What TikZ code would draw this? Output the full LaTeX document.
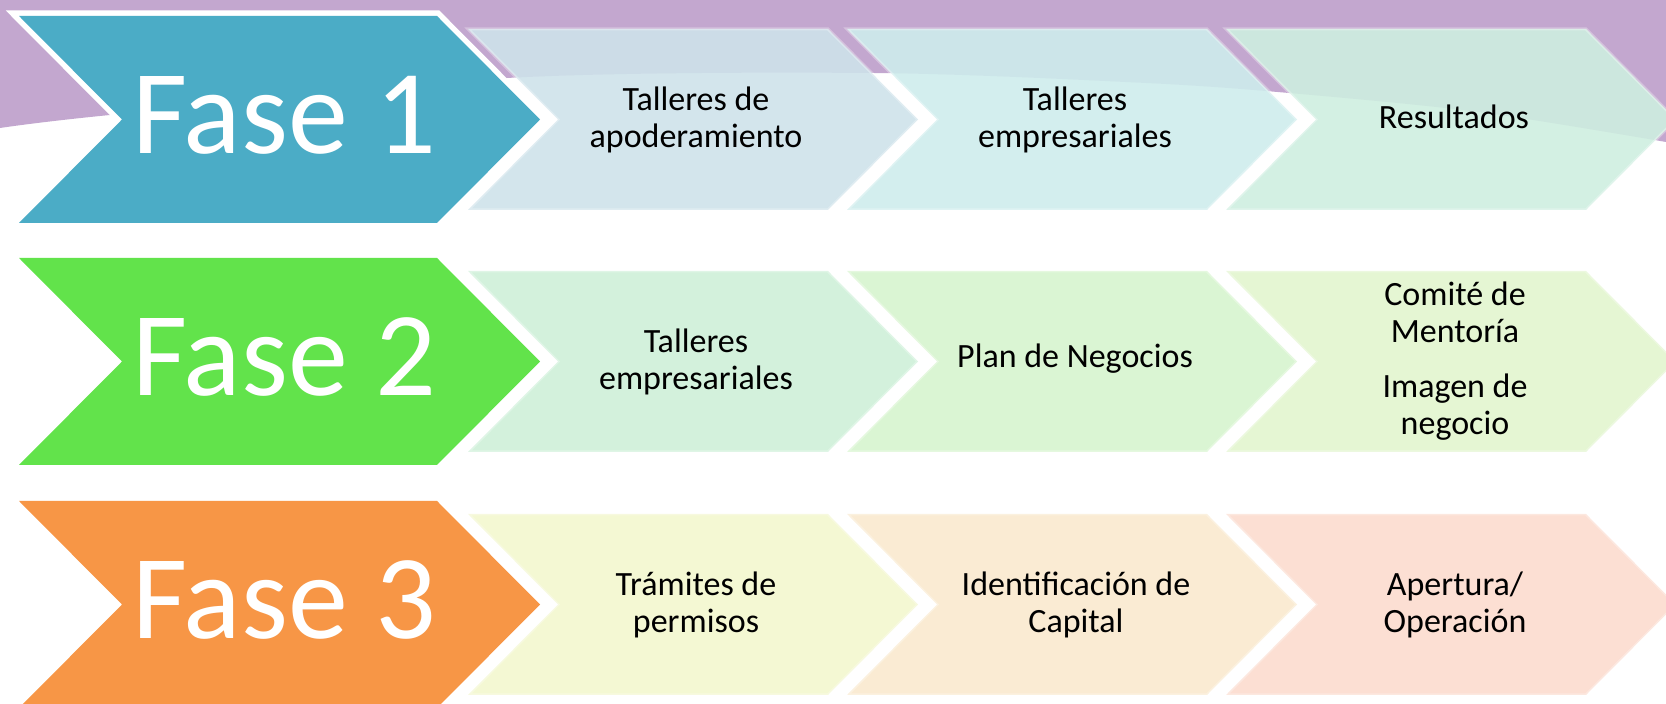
\documentclass[tikz,border=0pt]{standalone}
\usepackage{fontspec}
\setmainfont{Carlito}
\usepackage{tikz}
\usetikzlibrary{positioning,calc}
\definecolor{lila}{HTML}{C3A7CF}
\definecolor{azul}{HTML}{4BACC6}
\definecolor{verde}{HTML}{62E34B}
\definecolor{naranja}{HTML}{F79646}
\definecolor{pa1}{HTML}{CEE2EA}
\definecolor{pa2}{HTML}{CEECEC}
\definecolor{pa3}{HTML}{CEEEE0}
\definecolor{pb1}{HTML}{CEF0D8}
\definecolor{pb2}{HTML}{D6F4CE}
\definecolor{pb3}{HTML}{E2F5CE}
\definecolor{pc1}{HTML}{F3F7CE}
\definecolor{pc2}{HTML}{FAE9CE}
\definecolor{pc3}{HTML}{FCDBCE}
\tikzstyle{fase} = [preaction={draw=white,line width=5.5pt,line join=miter}]
\tikzstyle{paso} = [fill opacity=0.9, draw=white, draw opacity=0.3, line width=1.5pt, line join=miter]
\tikzstyle{fasetext} = [text=white, font=\fontsize{60}{62}\selectfont]
\tikzstyle{pasotext} = [text=black, align=center, font=\fontsize{17}{18.5}\selectfont]

\begin{document}
\begin{tikzpicture}[x=0.5pt,y=-0.5pt]
    \useasboundingbox (0,0) rectangle (1666,704);
    % fondo
    \fill [lila] (0,0) -- (1666,0) -- plot [smooth] coordinates {(1666,142) (1479,112) (1289,93) (1146,83) (873,73) (507,78) (110,115) (0,128)} -- cycle;

    \fill [azul,fase] (19,16) -- ++(418,0) -- ++(103,103.5) -- ++(-103,103.5) -- ++(-418,0) -- ++(103,-103.5) -- cycle;
    \fill [verde,fase] (19,258) -- ++(418,0) -- ++(103,103.5) -- ++(-103,103.5) -- ++(-418,0) -- ++(103,-103.5) -- cycle;
    \fill [naranja,fase] (19,501) -- ++(418,0) -- ++(103,103.5) -- ++(-103,103.5) -- ++(-418,0) -- ++(103,-103.5) -- cycle;

    \path [paso,fill=pa1] (468,29) -- ++(360,0) -- ++(90,90.5) -- ++(-90,90.5) -- ++(-360,0) -- ++(90,-90.5) -- cycle;
    \path [paso,fill=pa2] (847,29) -- ++(360,0) -- ++(90,90.5) -- ++(-90,90.5) -- ++(-360,0) -- ++(90,-90.5) -- cycle;
    \path [paso,fill=pa3] (1226,29) -- ++(360,0) -- ++(90,90.5) -- ++(-90,90.5) -- ++(-360,0) -- ++(90,-90.5) -- cycle;
    \path [paso,fill=pb1] (468,271) -- ++(360,0) -- ++(90,90.5) -- ++(-90,90.5) -- ++(-360,0) -- ++(90,-90.5) -- cycle;
    \path [paso,fill=pb2] (847,271) -- ++(360,0) -- ++(90,90.5) -- ++(-90,90.5) -- ++(-360,0) -- ++(90,-90.5) -- cycle;
    \path [paso,fill=pb3] (1226,271) -- ++(360,0) -- ++(90,90.5) -- ++(-90,90.5) -- ++(-360,0) -- ++(90,-90.5) -- cycle;
    \path [paso,fill=pc1] (468,514) -- ++(360,0) -- ++(90,90.5) -- ++(-90,90.5) -- ++(-360,0) -- ++(90,-90.5) -- cycle;
    \path [paso,fill=pc2] (847,514) -- ++(360,0) -- ++(90,90.5) -- ++(-90,90.5) -- ++(-360,0) -- ++(90,-90.5) -- cycle;
    \path [paso,fill=pc3] (1226,514) -- ++(360,0) -- ++(90,90.5) -- ++(-90,90.5) -- ++(-360,0) -- ++(90,-90.5) -- cycle;

    \node [fasetext] (f1) at (284,115) {Fase 1};
    \node [fasetext] (f2) at (284,357) {Fase 2};
    \node [fasetext] (f3) at (284,600) {Fase 3};

    \node [pasotext] (a1) at (696,119.5) {Talleres de\\apoderamiento};
    \node [pasotext] (a2) at (1075,119.5) {Talleres\\empresariales};
    \node [pasotext] (a3) at (1454,117) {Resultados};
    \node [pasotext] (b1) at (696,361.5) {Talleres\\empresariales};
    \node [pasotext] (b2) at (1075,359) {Plan de Negocios};
    \node [pasotext] (b3) at (1455,361.5) {Comité de\\Mentoría\\[9pt]Imagen de\\negocio};
    \node [pasotext] (c1) at (696,604.5) {Trámites de\\permisos};
    \node [pasotext] (c2) at (1076,604.5) {Identificación de\\Capital};
    \node [pasotext] (c3) at (1455,604.5) {Apertura/\\Operación};
\end{tikzpicture}
\end{document}
